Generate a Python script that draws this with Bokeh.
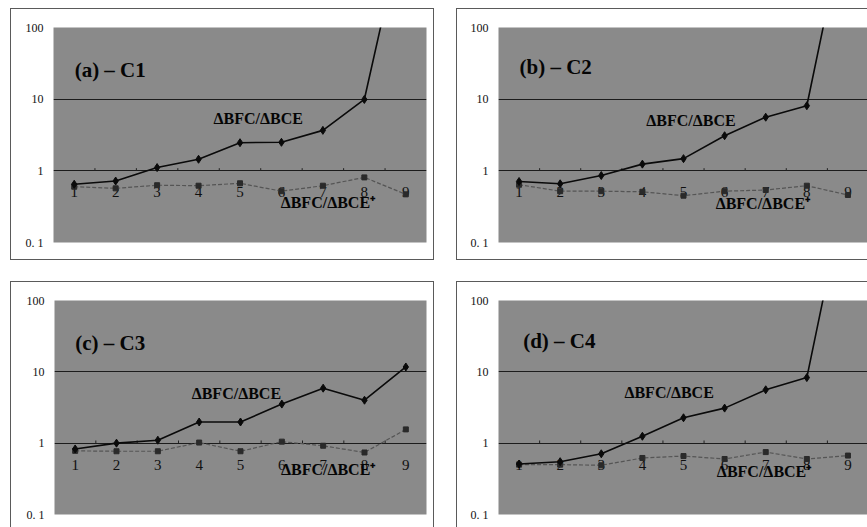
from bokeh.plotting import figure
from bokeh.layouts import column, row
from bokeh.models import Range1d, FixedTicker, Label, Spacer
from bokeh.core.properties import value
from bokeh.embed import file_html
from bokeh.resources import INLINE

# ---- data ----
categories = [1, 2, 3, 4, 5, 6, 7, 8, 9]
cat_labels = ["1", "2", "3", "4", "5", "6", "7", "8", "9"]
y_ticks = [0.1, 1, 10, 100]
y_tick_labels = {0.1: "0. 1", 1: "1", 10: "10", 100: "100"}
series1_name = "\u0394BFC/\u0394BCE"
series2_name = "\u0394BFC/\u0394BCE\u207a"

c1_ratio = [0.65, 0.72, 1.11, 1.45, 2.47, 2.5, 3.67, 9.9, 3700]
c1_ratio_star = [0.60, 0.57, 0.63, 0.62, 0.67, 0.52, 0.62, 0.81, 0.47]

c2_ratio = [0.71, 0.66, 0.86, 1.24, 1.48, 3.09, 5.6, 8.1, 4600]
c2_ratio_star = [0.64, 0.52, 0.52, 0.51, 0.45, 0.52, 0.54, 0.62, 0.46]

c3_ratio = [0.83, 1.0, 1.1, 1.98, 1.98, 3.53, 5.9, 4.0, 11.7]
c3_ratio_star = [0.78, 0.77, 0.77, 1.02, 0.77, 1.05, 0.92, 0.74, 1.56]

c4_ratio = [0.51, 0.55, 0.71, 1.25, 2.27, 3.1, 5.6, 8.3, 5000]
c4_ratio_star = [0.50, 0.50, 0.49, 0.62, 0.66, 0.60, 0.75, 0.60, 0.67]

panel_titles = ["(a) \u2013 C1", "(b) \u2013 C2", "(c) \u2013 C3", "(d) \u2013 C4"]

SERIF = "Liberation Serif"
BG = "#8a8a8a"


def make_panel(title, s1, s2, w, h, borders, title_pos, l1_pos, l2_pos, css):
    bl, br, bt, bb = borders
    p = figure(width=w, height=h, output_backend="svg", toolbar_location=None,
               y_axis_type="log", x_range=Range1d(0.5, 9.5), y_range=Range1d(0.1, 100),
               x_axis_location=None, min_border_left=bl, min_border_right=br,
               min_border_top=bt, min_border_bottom=bb)
    p.background_fill_color = BG
    p.border_fill_color = "white"
    p.outline_line_color = None
    p.styles = css
    p.xgrid.visible = False
    p.ygrid.ticker = FixedTicker(ticks=[1, 10])
    p.ygrid.grid_line_color = "#1c1c1c"
    p.ygrid.grid_line_width = 1
    ax = p.yaxis[0]
    ax.ticker = FixedTicker(ticks=y_ticks)
    ax.major_label_overrides = y_tick_labels
    ax.axis_line_color = None
    ax.major_tick_line_color = None
    ax.minor_tick_line_color = None
    ax.major_tick_out = 0
    ax.major_tick_in = 0
    ax.minor_tick_out = 0
    ax.minor_tick_in = 0
    ax.major_label_standoff = 10
    ax.major_label_text_font = SERIF
    ax.major_label_text_font_size = "12px"
    ax.major_label_text_color = "#111111"

    # small ticks on the y=1 crossing line at category boundaries
    bounds = [c + 0.5 for c in categories[:-1]]
    p.segment(x0=bounds, y0=[1] * len(bounds), x1=bounds, y1=[1.09] * len(bounds),
              line_color="#222222", line_width=1)

    # category labels sitting under the y=1 line
    p.text(x=categories, y=[0.5] * len(categories), text=cat_labels,
           text_font=value(SERIF), text_font_size="15px", text_color="#101010",
           text_align="center", text_baseline="middle")

    # series 2 (dashed, squares)
    p.line(categories, s2, line_color="#555555", line_width=1.2, line_dash="4 2")
    p.scatter(categories, s2, marker="square", size=5, fill_color="#2a2a2a",
              line_color="#2a2a2a")
    # series 1 (solid, diamonds)
    p.line(categories, s1, line_color="#0a0a0a", line_width=1.6)
    p.scatter(categories, s1, marker="diamond", size=8, fill_color="#0a0a0a",
              line_color="#0a0a0a")

    p.add_layout(Label(x=title_pos[0], y=title_pos[1], text=title, text_font=SERIF,
                       text_font_style="bold", text_font_size="21px", text_color="#050505",
                       text_align="left", text_baseline="middle"))
    p.add_layout(Label(x=l1_pos[0], y=l1_pos[1], text=series1_name, text_font=SERIF,
                       text_font_style="bold", text_font_size="16px", text_color="#050505",
                       text_align="center", text_baseline="middle"))
    p.add_layout(Label(x=l2_pos[0], y=l2_pos[1], text=series2_name, text_font=SERIF,
                       text_font_style="bold", text_font_size="16px", text_color="#050505",
                       text_align="center", text_baseline="middle"))
    return p


LINE = "1px solid #5a5a5a"
css_a = {"border": LINE, "box-sizing": "border-box"}
css_b = {"border-left": LINE, "border-top": LINE, "border-bottom": LINE, "box-sizing": "border-box"}
css_c = {"border-left": LINE, "border-top": LINE, "border-right": LINE, "box-sizing": "border-box"}
css_d = {"border-left": LINE, "border-top": LINE, "box-sizing": "border-box"}

pa = make_panel(panel_titles[0], c1_ratio, c1_ratio_star, 424, 252, (42, 9, 18, 18),
                (1.01, 25.3), (5.44, 5.3), (7.12, 0.36), css_a)
pb = make_panel(panel_titles[1], c2_ratio, c2_ratio_star, 411, 252, (41, 0, 17, 19),
                (1.01, 28.0), (5.18, 5.0), (6.93, 0.345), css_b)
pc = make_panel(panel_titles[2], c3_ratio, c3_ratio_star, 424, 246, (43, 9, 18, 12),
                (1.0, 25.0), (4.9, 4.9), (7.12, 0.43), css_c)
pd = make_panel(panel_titles[3], c4_ratio, c4_ratio_star, 411, 246, (41, 0, 16, 14),
                (1.1, 27.0), (4.65, 5.1), (6.96, 0.40), css_d)

layout = column(
    Spacer(width=10, height=8),
    row(Spacer(width=10, height=252), pa, Spacer(width=22, height=252), pb),
    Spacer(width=10, height=21),
    row(Spacer(width=10, height=246), pc, Spacer(width=22, height=246), pd),
)

open("out.html", "w").write(file_html(layout, INLINE))
